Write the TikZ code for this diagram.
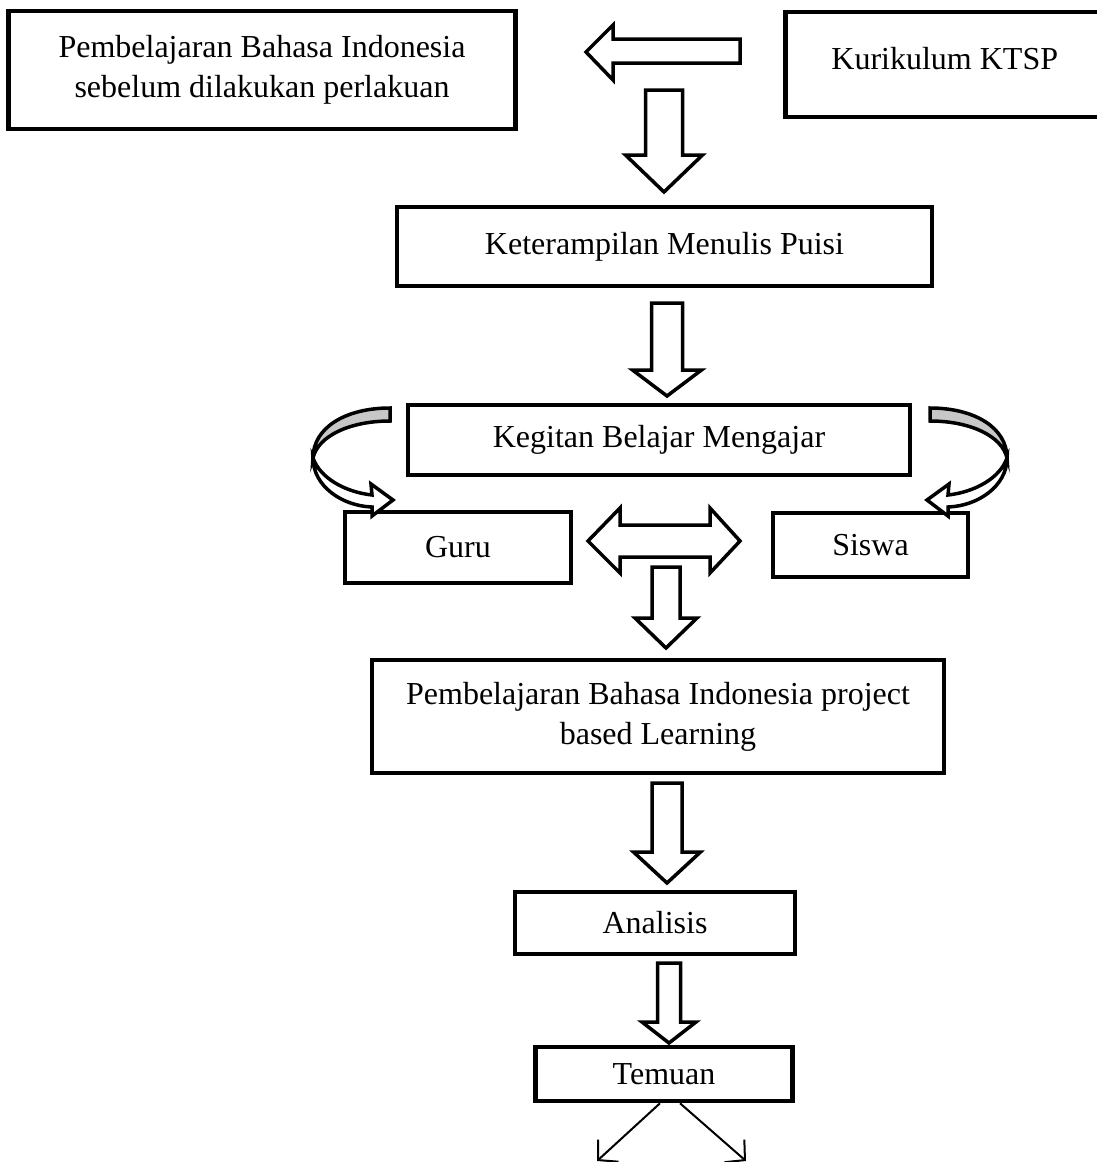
\documentclass[tikz,border=0pt]{standalone}
\usepackage{fontspec}
\setmainfont{Liberation Serif}
\usetikzlibrary{arrows.meta}
\tikzset{
  boxnode/.style={draw=black, line width=4.5pt, fill=white, rectangle, inner sep=0pt, align=center,
    font=\fontsize{32}{40}\selectfont},
  blk/.style={draw=black, line width=3.5pt, fill=white, line join=miter},
  curv/.style={draw=black, line width=3.5pt, line join=miter},
  thinarrow/.style={draw=black, line width=2pt, -{Straight Barb[length=14pt,width=30pt,line width=2pt]}}
}
\newcommand\blockdown[6]{%
  \draw[blk] ({#1-#5},#2) -- ({#1+#5},#2) -- ({#1+#5},#3) -- ({#1+#6},#3) -- (#1,#4) -- ({#1-#6},#3) -- ({#1-#5},#3) -- cycle;}
\newcommand\curvedarr{%
  \filldraw[curv, fill=black!22] (0,408) .. controls (-45,408) and (-77,428) .. (-77,458)
     .. controls (-72,436) and (-40,421) .. (0,421) -- cycle;
  \filldraw[curv, fill=white] (-77,458) .. controls (-77,486) and (-48,506) .. (-18,507)
     -- (-18,516) -- (3,500) -- (-19,484) -- (-18,495)
     .. controls (-45,492) and (-70,478) .. (-77,458) -- cycle;}
\begin{document}
\begin{tikzpicture}[x=1pt,y=-1pt]
\useasboundingbox (0,0) rectangle (1096,1162);

% boxes
\node[boxnode, minimum width=507, minimum height=118] (pre) at (262,70)
  {Pembelajaran Bahasa Indonesia\\sebelum dilakukan perlakuan};
\node[boxnode, minimum width=330, minimum height=105, anchor=west] (ktsp) at (783,64.5)
  {\hspace*{-11pt}\raisebox{12pt}{Kurikulum KTSP}};
\node[boxnode, minimum width=535, minimum height=79] (ket) at (664.5,246.5)
  {Keterampilan Menulis Puisi};
\node[boxnode, minimum width=502, minimum height=70] (keg) at (659,440)
  {Kegitan Belajar Mengajar};
\node[boxnode, minimum width=226, minimum height=71] (guru) at (458,547.5) {Guru};
\node[boxnode, minimum width=195, minimum height=64] (siswa) at (870.5,545) {Siswa};
\node[boxnode, minimum width=572, minimum height=113] (pbl) at (658,716.5)
  {Pembelajaran Bahasa Indonesia project\\based Learning};
\node[boxnode, minimum width=280, minimum height=62] (ana) at (655,923) {Analisis};
\node[boxnode, minimum width=257, minimum height=54] (tem) at (664,1074) {Temuan};

% left block arrow (KTSP -> pre)
\draw[blk] (740,39) -- (613,39) -- (613,25) -- (586,52) -- (613,80) -- (613,63) -- (740,63) -- cycle;

% down block arrows
\blockdown{664}{90}{155}{192}{18.5}{38.5}
\blockdown{667}{303}{370}{396}{15.5}{34.5}
\blockdown{666}{567}{618}{648}{14}{31}
\blockdown{667}{783}{852}{883}{15}{33.5}
\blockdown{669}{963}{1022}{1043}{11.5}{27}

% double block arrow (Guru <-> Siswa)
\draw[blk] (588,541) -- (620,508) -- (620,525) -- (710,525) -- (710,508) -- (740,541)
  -- (710,573) -- (710,557) -- (620,557) -- (620,573) -- cycle;

% curved arrows
\begin{scope}[shift={(390,0)}]
  \curvedarr
\end{scope}
\begin{scope}[shift={(930,0)}, xscale=-1]
  \curvedarr
\end{scope}

% output lines from Temuan
\coordinate (t1) at (597,1161);
\coordinate (t2) at (746,1161);
\draw[thinarrow] ([xshift=-4pt]tem.south) -- (t1);
\draw[thinarrow] ([xshift=16pt]tem.south) -- (t2);
\end{tikzpicture}
\end{document}
